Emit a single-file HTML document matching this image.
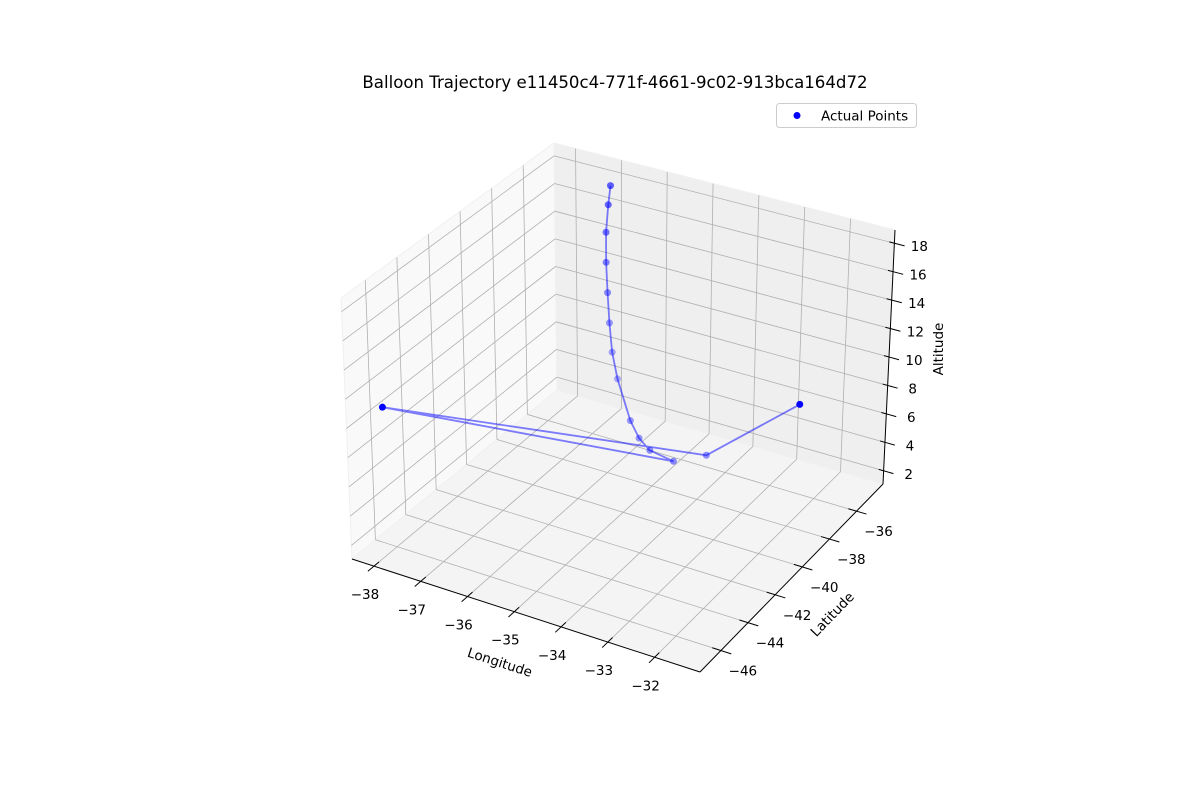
<!DOCTYPE html>
<html><head><meta charset="utf-8"><style>
html,body{margin:0;padding:0;background:#fff;}
svg{display:block;font-family:"DejaVu Sans","Liberation Sans",sans-serif;}
</style></head><body>
<svg id="chart" width="1200" height="800" viewBox="0 0 1200 800">
<text x="615" y="88" text-anchor="middle" font-size="16.6" fill="#000">Balloon Trajectory e11450c4-771f-4661-9c02-913bca164d72</text>
<g id="panes"></g><g id="grid"></g><g id="axes"></g><g id="marks"></g>
<g>
<rect x="776.5" y="103.5" width="140" height="24" rx="3" fill="#fff" fill-opacity="0.8" stroke="#cccccc"/>
<circle cx="797" cy="115.5" r="3.5" fill="#0000ff"/>
<text x="821" y="120.5" font-size="13.5" fill="#000">Actual Points</text>
</g>
</svg>
<script>
const lonValues=[-37.12,-37.17,-37.22,-37.22,-37.19,-37.15,-37.09,-36.97,-36.22,-35.88,-35.56,-35.0,-37.92,-34.55,-31.34];
const latValues=[-34.4,-34.4,-34.4,-34.4,-34.4,-34.4,-34.4,-34.4,-35.77,-36.2,-36.43,-36.52,-46.86,-35.62,-39.49];
const altValues=[17.3,15.88,13.86,11.70,9.55,7.41,5.36,3.55,2.5,1.96,1.6,1.43,11.45,1.43,11.48];
const lonTicks=[-38,-37,-36,-35,-34,-33,-32];
const latTicks=[-46,-44,-42,-40,-38,-36];
const altTicks=[2,4,6,8,10,12,14,16,18];
const lonRange=[-38.47,-31.03];
const latRange=[-47.54,-34.05];
const altRange=[1.07,18.93];

const NS="http://www.w3.org/2000/svg";
const C={"000":[352,559],"100":[700,672],"010":[557,390],"110":[883,484],
"001":[341,298],"101":[703,404],"011":[554,143],"111":[895,230]};
function P(a,b,c){let x=0,y=0;
 for(const i of [0,1])for(const j of [0,1])for(const k of [0,1]){
  const w=(i?a:1-a)*(j?b:1-b)*(k?c:1-c);const p=C[""+i+j+k];x+=w*p[0];y+=w*p[1];}
 return [x,y];}
const sa=v=>(v-lonRange[0])/(lonRange[1]-lonRange[0]);
const sb=v=>(v-latRange[0])/(latRange[1]-latRange[0]);
const sc=v=>(v-altRange[0])/(altRange[1]-altRange[0]);
function el(t,attrs,parent){const e=document.createElementNS(NS,t);for(const k in attrs)e.setAttribute(k,attrs[k]);parent.appendChild(e);return e;}
function line(p,q,col,w,parent){return el("line",{x1:p[0],y1:p[1],x2:q[0],y2:q[1],stroke:col,"stroke-width":w},parent);}
const panes=document.getElementById("panes"),grid=document.getElementById("grid"),axes=document.getElementById("axes"),marks=document.getElementById("marks");
function poly(pts,fill){return el("polygon",{points:pts.map(p=>p.join(",")).join(" "),fill:fill,stroke:"#f0f0f0","stroke-width":1},panes);}
let pn;
pn=poly([P(0,0,0),P(0,1,0),P(0,1,1),P(0,0,1)],"#f9f9f9");


pn=poly([P(0,1,0),P(1,1,0),P(1,1,1),P(0,1,1)],"#efefef");


pn=poly([P(0,0,0),P(1,0,0),P(1,1,0),P(0,1,0)],"#f4f4f4");


const GC="#b0b0b0";
let g;
lonTicks.forEach(t=>{const a=sa(t);
 g=line(P(a,0,0),P(a,1,0),GC,0.8,grid);
 
 
 g=line(P(a,1,0),P(a,1,1),GC,0.8,grid);
 
 
 let tk=line(P(a,-0.03,0),P(a,0.025,0),"#000",1,axes);
 
 
 const p=P(a,0,0);
 const tx=el("text",{x:p[0]-9,y:p[1]+33,"text-anchor":"middle","font-size":"13.5"},axes);tx.textContent="\u2212"+Math.abs(t);
 
 
});
latTicks.forEach(t=>{const b=sb(t);
 g=line(P(0,b,0),P(1,b,0),GC,0.8,grid);
 
 
 g=line(P(0,b,0),P(0,b,1),GC,0.8,grid);
 
 
 let tk=line(P(0.975,b,0),P(1.03,b,0),"#000",1,axes);
 
 
 const p=P(1,b,0);
 const tx=el("text",{x:p[0]+22,y:p[1]+25,"text-anchor":"middle","font-size":"13.5"},axes);tx.textContent="\u2212"+Math.abs(t);
 
 
});
altTicks.forEach(t=>{const c=sc(t);
 g=line(P(0,1,c),P(1,1,c),GC,0.8,grid);
 
 
 g=line(P(0,0,c),P(0,1,c),GC,0.8,grid);
 
 
 let tk=line(P(0.985,1,c),P(1.03,1,c),"#000",1,axes);
 
 
 const p=P(1,1,c);
 const tx=el("text",{x:p[0]+25,y:p[1]+8,"text-anchor":"middle","font-size":"13.5"},axes);tx.textContent=String(t);
 
 
});
let ax=line(P(0,0,0),P(1,0,0),"#000",1,axes);


ax=line(P(1,0,0),P(1,1,0),"#000",1,axes);


ax=line(P(1,1,0),P(1,1,1),"#000",1,axes);


let lt=el("text",{x:500,y:667,"text-anchor":"middle","font-size":"13.5",transform:"rotate(18 500 662)"},axes);lt.textContent="Longitude";


lt=el("text",{x:832,y:619,"text-anchor":"middle","font-size":"13.5",transform:"rotate(-46 832 614)"},axes);lt.textContent="Latitude";


lt=el("text",{x:948,y:354,"text-anchor":"middle","font-size":"13.5",transform:"rotate(-90 943 354)"},axes);lt.textContent="Altitude";



const pts=lonValues.map((v,i)=>P(sa(v),sb(latValues[i]),sc(altValues[i])));
const path=el("polyline",{points:pts.map(p=>p.join(",")).join(" "),fill:"none",stroke:"#0000ff","stroke-opacity":0.5,"stroke-width":1.8},marks);


const depth=lonValues.map((v,i)=>0.433*sa(v)-0.75*sb(latValues[i])+0.5*sc(altValues[i]));
const dmin=Math.min(...depth),dmax=Math.max(...depth);
pts.forEach((p,i)=>{
 const op=0.3+0.7*(depth[i]-dmin)/(dmax-dmin);
 const c=el("circle",{cx:p[0],cy:p[1],r:3.5,fill:"#0000ff","fill-opacity":op},marks);
 
 
});
</script>
</body></html>
